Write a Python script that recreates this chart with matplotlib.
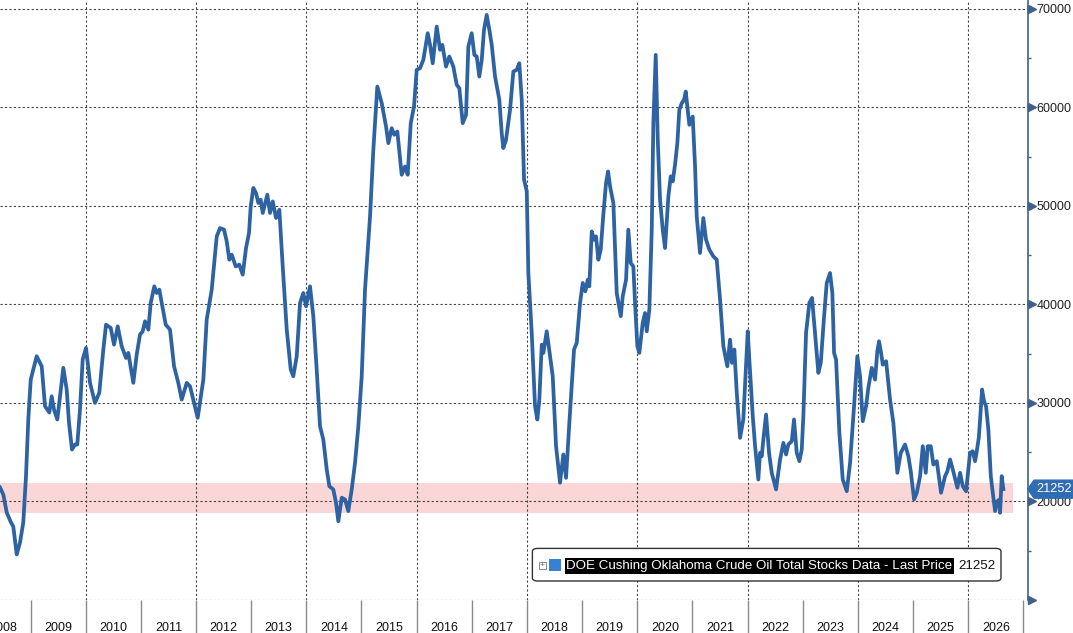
import numpy as np
import matplotlib
matplotlib.use('Agg')
import matplotlib.pyplot as plt
from matplotlib.patches import Rectangle, FancyBboxPatch, Polygon

# DOE Cushing crude stocks (thousand bbl), time as decimal years
years = [2008.447, 2008.507, 2008.569, 2008.646, 2008.688, 2008.750, 2008.810, 2008.869, 2008.918, 2008.960,
         2009.004, 2009.051, 2009.112, 2009.203, 2009.263, 2009.341, 2009.384, 2009.426, 2009.486, 2009.535,
         2009.595, 2009.656, 2009.698, 2009.752, 2009.807, 2009.848, 2009.897, 2009.946, 2010.006, 2010.079,
         2010.169, 2010.247, 2010.320, 2010.369, 2010.454, 2010.514, 2010.581, 2010.653, 2010.731, 2010.773,
         2010.864, 2010.925, 2010.985, 2011.034, 2011.076, 2011.136, 2011.179, 2011.244, 2011.288, 2011.335,
         2011.379, 2011.451, 2011.529, 2011.602, 2011.679, 2011.741, 2011.832, 2011.892, 2011.964, 2012.031,
         2012.133, 2012.194, 2012.285, 2012.376, 2012.435, 2012.508, 2012.557, 2012.604, 2012.648, 2012.720,
         2012.785, 2012.847, 2012.907, 2012.961, 2012.992, 2013.039, 2013.088, 2013.130, 2013.173, 2013.210,
         2013.293, 2013.342, 2013.391, 2013.451, 2013.511, 2013.572, 2013.645, 2013.717, 2013.764, 2013.826,
         2013.886, 2013.946, 2013.995, 2014.067, 2014.127, 2014.188, 2014.248, 2014.308, 2014.370, 2014.417,
         2014.489, 2014.538, 2014.580, 2014.642, 2014.702, 2014.761, 2014.823, 2014.883, 2014.943, 2015.004,
         2015.064, 2015.155, 2015.215, 2015.287, 2015.367, 2015.445, 2015.487, 2015.548, 2015.595, 2015.650,
         2015.729, 2015.789, 2015.838, 2015.893, 2015.952, 2016.001, 2016.061, 2016.121, 2016.201, 2016.243,
         2016.291, 2016.364, 2016.424, 2016.466, 2016.533, 2016.592, 2016.665, 2016.727, 2016.774, 2016.835,
         2016.895, 2016.937, 2016.998, 2017.046, 2017.089, 2017.136, 2017.180, 2017.221, 2017.270, 2017.318,
         2017.361, 2017.421, 2017.499, 2017.542, 2017.571, 2017.620, 2017.693, 2017.753, 2017.814, 2017.861,
         2017.905, 2017.947, 2017.996, 2018.025, 2018.086, 2018.146, 2018.188, 2018.224, 2018.268, 2018.297,
         2018.358, 2018.418, 2018.467, 2018.527, 2018.599, 2018.659, 2018.708, 2018.768, 2018.853, 2018.902,
         2018.962, 2019.011, 2019.058, 2019.102, 2019.130, 2019.174, 2019.216, 2019.252, 2019.294, 2019.337,
         2019.384, 2019.433, 2019.470, 2019.506, 2019.566, 2019.627, 2019.700, 2019.736, 2019.796, 2019.837,
         2019.881, 2019.928, 2019.959, 2020.001, 2020.037, 2020.098, 2020.140, 2020.171, 2020.218, 2020.262,
         2020.291, 2020.334, 2020.371, 2020.412, 2020.461, 2020.503, 2020.563, 2020.606, 2020.642, 2020.684,
         2020.726, 2020.762, 2020.806, 2020.847, 2020.878, 2020.907, 2020.943, 2021.005, 2021.047, 2021.077,
         2021.137, 2021.197, 2021.246, 2021.306, 2021.378, 2021.440, 2021.500, 2021.560, 2021.632, 2021.681,
         2021.717, 2021.759, 2021.803, 2021.863, 2021.922, 2022.002, 2022.031, 2022.093, 2022.135, 2022.194,
         2022.225, 2022.256, 2022.285, 2022.334, 2022.388, 2022.437, 2022.515, 2022.588, 2022.648, 2022.697,
         2022.738, 2022.800, 2022.841, 2022.890, 2022.938, 2022.981, 2023.010, 2023.059, 2023.119, 2023.168,
         2023.222, 2023.282, 2023.326, 2023.386, 2023.434, 2023.494, 2023.536, 2023.567, 2023.603, 2023.663,
         2023.724, 2023.797, 2023.857, 2023.929, 2023.989, 2024.038, 2024.087, 2024.147, 2024.188, 2024.250,
         2024.310, 2024.351, 2024.382, 2024.419, 2024.450, 2024.510, 2024.582, 2024.642, 2024.714, 2024.776,
         2024.854, 2024.914, 2024.957, 2025.017, 2025.066, 2025.126, 2025.175, 2025.229, 2025.265, 2025.320,
         2025.367, 2025.429, 2025.506, 2025.579, 2025.621, 2025.670, 2025.719, 2025.802, 2025.851, 2025.900,
         2025.960, 2026.032, 2026.081, 2026.123, 2026.154, 2026.190, 2026.214, 2026.250, 2026.286, 2026.322,
         2026.364, 2026.408, 2026.444, 2026.486, 2026.527, 2026.564, 2026.576, 2026.606, 2026.636]
stocks = [21420, 20700, 18880, 17870, 17460, 14620, 15840, 17870, 22540, 28320,
          32370, 33390, 34740, 33720, 29670, 29030, 30680, 29330, 28320, 30680,
          33560, 31360, 27980, 25270, 25780, 25780, 29330, 34400, 35590, 32040,
          30010, 31030, 35420, 37950, 37620, 35920, 37780, 35760, 34570, 35080,
          32040, 34910, 36940, 37270, 38290, 37440, 40150, 41840, 41160, 41500,
          40150, 37950, 37440, 33720, 32040, 30340, 32040, 31690, 30010, 28490,
          32370, 38460, 41500, 46910, 47750, 47590, 46400, 44540, 45050, 43860,
          44040, 43020, 45730, 47250, 49950, 51820, 51310, 50300, 50630, 49280,
          51140, 49280, 50460, 48770, 49610, 43860, 37440, 33390, 32710, 34740,
          40150, 41160, 39810, 41840, 38800, 33390, 27640, 26290, 23250, 21550,
          21220, 19870, 18000, 20380, 20200, 19020, 21220, 23920, 27640, 32710,
          41500, 48940, 55700, 62120, 60430, 58060, 56370, 57890, 57220, 57550,
          53160, 54000, 53160, 58400, 60090, 63810, 63980, 64820, 67530, 66340,
          64480, 68200, 65840, 66340, 64140, 65160, 64140, 62290, 61950, 58400,
          59240, 66180, 67530, 65330, 65160, 63130, 64820, 67870, 69390, 67870,
          66340, 63130, 60770, 57390, 55870, 56710, 59760, 63640, 63810, 64480,
          60770, 52650, 51500, 43190, 37110, 29670, 28320, 30340, 35920, 35080,
          37270, 34740, 32710, 25610, 21900, 24770, 22400, 27980, 35420, 36100,
          40150, 42180, 41330, 42510, 41840, 47410, 46570, 46910, 44540, 45560,
          49110, 52320, 53500, 51980, 50290, 41160, 38800, 40830, 42510, 47590,
          44200, 43860, 40150, 35760, 35080, 38120, 39130, 37270, 39470, 47590,
          58400, 65330, 56710, 50630, 47590, 45730, 50970, 53000, 52490, 54180,
          56370, 59760, 60430, 60770, 61610, 60090, 58230, 59070, 54000, 48940,
          45220, 48770, 46570, 45560, 44880, 44540, 40490, 35760, 33720, 36430,
          34070, 35420, 31030, 26460, 28320, 37270, 34400, 28660, 25610, 22230,
          24940, 24590, 26290, 28820, 24940, 22910, 21220, 24260, 25950, 24770,
          25780, 26120, 28320, 24940, 24090, 25270, 28660, 37110, 40150, 40660,
          37110, 33050, 34070, 38800, 42180, 43190, 41160, 35080, 34400, 26970,
          22230, 21040, 23920, 29670, 34740, 32710, 28150, 29670, 31530, 33560,
          32370, 35250, 36260, 35080, 33890, 34240, 30340, 27980, 22910, 24940,
          25780, 24590, 23070, 20200, 20880, 22570, 25610, 22910, 25610, 25610,
          23750, 24090, 20880, 22570, 23070, 24260, 23250, 21390, 22910, 21550,
          21040, 24940, 25100, 24090, 25100, 26460, 28320, 31360, 30170, 29670,
          27300, 22570, 20880, 19020, 20030, 20200, 18850, 22570, 21252]

last_value = 21252
band_low, band_high = 18800, 21850
y_ticks = [10000, 20000, 30000, 40000, 50000, 60000, 70000]
y_labels = ['', '20000', '30000', '40000', '50000', '60000', '70000']
year_labels = [str(y) for y in range(2008, 2027)]
legend_text = 'DOE Cushing Oklahoma Crude Oil Total Stocks Data - Last Price'

W, H = 1073, 633
LINE = '#2d62a3'
AXIS = '#3f6189'
TAG = '#2f6cb3'


def px(x, y):
    # pixel position -> figure fraction
    return x / W, 1 - y / H


def main():
    plt.rcParams['font.family'] = ['Liberation Sans', 'DejaVu Sans']
    fig = plt.figure(figsize=(W / 100, H / 100), dpi=100)
    ax = fig.add_axes([0, 33 / H, 1027.7 / W, 600 / H])

    ax.set_xlim(2008.447, 2027.077)
    ax.set_ylim(10000, 70900)

    # shaded low-inventory band
    ax.axhspan(band_low, band_high, xmin=0, xmax=1012.7 / 1027.7,
               color='#fad6d6', lw=0, zorder=0.3)

    ax.plot(years, stocks, color=LINE, lw=2.7, solid_joinstyle='round', zorder=3)

    # grid: every 10000 and every other year
    ax.set_axisbelow(True)
    ax.set_yticks(y_ticks)
    ax.set_yticklabels(y_labels)
    ax.set_yticks(np.arange(15000, 70000, 10000), minor=True)
    for yr in range(2010, 2027, 2):
        ax.axvline(yr, color='#444444', lw=0.8, ls=(0, (2, 2)), zorder=0.5)
    ax.yaxis.grid(True, which='major', color='#444444', lw=0.8, ls=(0, (2, 2)))

    for s in ['left', 'top', 'bottom']:
        ax.spines[s].set_visible(False)
    ax.spines['right'].set_color(AXIS)
    ax.spines['right'].set_linewidth(1.2)

    ax.yaxis.tick_right()
    ax.tick_params(axis='y', which='major', length=0, pad=6.5, labelsize=9, labelcolor='#222222')
    ax.tick_params(axis='y', which='minor', length=2.5, width=1, color=AXIS, direction='out')
    # triangle tick marks on the right axis
    ax.plot(np.full(len(y_ticks), 1.004), y_ticks, ls='none', marker='>', ms=5.5,
            color=AXIS, transform=ax.get_yaxis_transform(), clip_on=False, zorder=4)

    # year separators below the plot, labels centred in each year
    ax.set_xticks(range(2009, 2028))
    ax.set_xticklabels([])
    ax.set_xticks([y + 0.5 for y in range(2008, 2027)], minor=True)
    ax.set_xticklabels(year_labels, minor=True)
    ax.tick_params(axis='x', which='major', length=24, width=1, color='#8a8a8a', direction='out')
    ax.tick_params(axis='x', which='minor', length=0, pad=16, labelsize=9, labelcolor='#111111')

    # last value tag on the right axis
    ty = ax.transData.transform((2020, last_value))[1]
    ty = H - ty
    tag = [px(1027.7, ty), px(1034, ty - 9), px(1073, ty - 9), px(1073, ty + 9), px(1034, ty + 9)]
    fig.patches.append(Polygon(tag, closed=True, transform=fig.transFigure,
                               fc=TAG, ec=TAG, lw=1, joinstyle='round', zorder=6))
    fig.text(*px(1054, ty), str(last_value), color='white', fontsize=9.2,
             ha='center', va='center', zorder=7)

    # legend box drawn by hand
    x0, y0 = px(532.4, 581)
    x1, y1 = px(1001, 548.4)
    fig.patches.append(FancyBboxPatch((x0, y0), x1 - x0, y1 - y0, boxstyle='round,pad=0,rounding_size=0.005',
                                      transform=fig.transFigure, fc='white', ec='#333333', lw=1, zorder=5))
    bx, by = px(539, 568.5)
    fig.patches.append(Rectangle((bx, by), 7 / W, 7 / H, transform=fig.transFigure,
                                 fc='white', ec='#888888', lw=0.7, zorder=6))
    fig.text(*px(542.5, 565), '+', fontsize=6, color='#666666', ha='center', va='center', zorder=7)
    sx, sy = px(549, 570.6)
    fig.patches.append(Rectangle((sx, sy), 11.6 / W, 11.6 / H, transform=fig.transFigure,
                                 fc='#3a80d2', ec='none', zorder=6))
    hx, hy = px(565, 574)
    fig.patches.append(Rectangle((hx, hy), 389 / W, 16.4 / H, transform=fig.transFigure,
                                 fc='black', ec='none', zorder=6))
    fig.text(*px(566, 566), legend_text, fontsize=9.6, color='white', ha='left', va='center', zorder=7)
    fig.text(*px(958, 566), str(last_value), fontsize=9.6, color='#111111', ha='left', va='center', zorder=7)

    fig.savefig('out.png', dpi=100)


if __name__ == "__main__":
    main()
